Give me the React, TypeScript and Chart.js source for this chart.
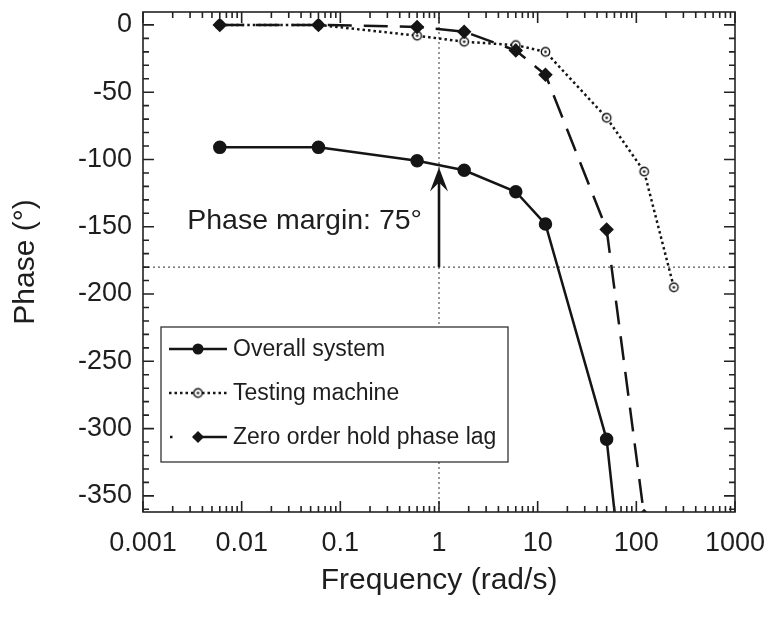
import React, { useEffect, useRef } from "react";
import { Chart, registerables } from "chart.js";

Chart.register(...registerables);

// ---- data ----
const frequencies = [0.006, 0.06, 0.6, 1.8, 6, 12, 50, 120];
const overallSystem = [-91, -91, -101, -108, -124, -148, -308, -564];
const zohPhaseLag = [0, 0, -1.5, -5, -19, -37, -152, -365];
const testingFrequencies = [0.006, 0.06, 0.6, 1.8, 6, 12, 50, 120, 240];
const testingMachine = [0, 0, -8, -12.5, -15, -20, -69, -109, -195];

const xTicks = [0.001, 0.01, 0.1, 1, 10, 100, 1000];
const xTickLabels = ["0.001", "0.01", "0.1", "1", "10", "100", "1000"];
const yTicks = [0, -50, -100, -150, -200, -250, -300, -350];

const seriesNames = ["Overall system", "Testing machine", "Zero order hold phase lag"];
const crossoverFreq = 1;
const crossoverPhase = -180;
const arrowTipPhase = -106;
const annotationText = "Phase margin: 75°";
const annotationPhase = -152;
const xTitle = "Frequency (rad/s)";
const yTitle = "Phase (°)";

const FONT = '"Liberation Sans", Arial, Helvetica, sans-serif';
const INK = "#151515";
const TEXT = "#1e1e1e";

function makeOpenDotCircle(r: number): HTMLCanvasElement {
  const c = document.createElement("canvas");
  const s = Math.ceil(r * 2 + 4);
  c.width = s;
  c.height = s;
  const g = c.getContext("2d")!;
  g.fillStyle = "#fff";
  g.strokeStyle = INK;
  g.lineWidth = 1.4;
  g.beginPath();
  g.arc(s / 2, s / 2, r, 0, Math.PI * 2);
  g.fill();
  g.stroke();
  g.fillStyle = INK;
  g.beginPath();
  g.arc(s / 2, s / 2, 1.3, 0, Math.PI * 2);
  g.fill();
  return c;
}

function drawDiamond(ctx: CanvasRenderingContext2D, x: number, y: number, r: number) {
  ctx.beginPath();
  ctx.moveTo(x, y - r);
  ctx.lineTo(x + r, y);
  ctx.lineTo(x, y + r);
  ctx.lineTo(x - r, y);
  ctx.closePath();
  ctx.fill();
}

export default function App() {
  const ref = useRef<HTMLCanvasElement | null>(null);

  useEffect(() => {
    if (!ref.current) return;
    const openDot = makeOpenDotCircle(4.2);

    const overlay = {
      id: "overlay",
      beforeDatasetsDraw(chart: any) {
        const { ctx, chartArea: a, scales } = chart;
        const x = scales.x, y = scales.y;
        ctx.save();
        ctx.strokeStyle = "#555";
        ctx.lineWidth = 1.2;
        ctx.setLineDash([2, 3]);
        const vx = x.getPixelForValue(crossoverFreq);
        ctx.beginPath();
        ctx.moveTo(vx, a.top);
        ctx.lineTo(vx, a.bottom);
        ctx.stroke();
        const hy = y.getPixelForValue(crossoverPhase);
        ctx.beginPath();
        ctx.moveTo(a.left, hy);
        ctx.lineTo(a.right, hy);
        ctx.stroke();
        ctx.restore();
      },
      afterDatasetsDraw(chart: any) {
        const { ctx, chartArea: a, scales } = chart;
        const x = scales.x, y = scales.y;
        ctx.save();
        // arrow
        const ax = x.getPixelForValue(crossoverFreq);
        const y0 = y.getPixelForValue(crossoverPhase);
        const y1 = y.getPixelForValue(arrowTipPhase);
        ctx.strokeStyle = INK;
        ctx.fillStyle = INK;
        ctx.lineWidth = 2.6;
        ctx.beginPath();
        ctx.moveTo(ax, y0);
        ctx.lineTo(ax, y1 + 12);
        ctx.stroke();
        ctx.beginPath();
        ctx.moveTo(ax, y1);
        ctx.lineTo(ax + 9, y1 + 24);
        ctx.lineTo(ax, y1 + 15);
        ctx.lineTo(ax - 9, y1 + 24);
        ctx.closePath();
        ctx.fill();
        // annotation text
        ctx.font = `28.5px ${FONT}`;
        ctx.fillStyle = TEXT;
        ctx.textAlign = "right";
        ctx.textBaseline = "alphabetic";
        ctx.fillText(annotationText, ax - 17, y.getPixelForValue(annotationPhase));

        // legend
        const bx = a.left + 18, by = a.top + 315, bw = 347, bh = 135;
        ctx.fillStyle = "#fff";
        ctx.fillRect(bx, by, bw, bh);
        ctx.strokeStyle = "#333";
        ctx.lineWidth = 1.3;
        ctx.strokeRect(bx, by, bw, bh);
        const rows = [by + 22, by + 66, by + 110];
        const lx0 = bx + 8, lx1 = bx + 66, mx = bx + 37;
        ctx.strokeStyle = INK;
        ctx.fillStyle = INK;
        ctx.lineWidth = 2.5;
        // overall
        ctx.setLineDash([]);
        ctx.beginPath();
        ctx.moveTo(lx0, rows[0]);
        ctx.lineTo(lx1, rows[0]);
        ctx.stroke();
        ctx.beginPath();
        ctx.arc(mx, rows[0], 5.5, 0, Math.PI * 2);
        ctx.fill();
        // testing
        ctx.setLineDash([2.5, 3]);
        ctx.beginPath();
        ctx.moveTo(lx0, rows[1]);
        ctx.lineTo(lx1, rows[1]);
        ctx.stroke();
        ctx.setLineDash([]);
        ctx.drawImage(openDot, mx - openDot.width / 2, rows[1] - openDot.height / 2);
        // zoh
        ctx.fillRect(lx0 + 1, rows[2] - 1.25, 2.5, 2.5);
        ctx.beginPath();
        ctx.moveTo(bx + 32, rows[2]);
        ctx.lineTo(lx1, rows[2]);
        ctx.stroke();
        drawDiamond(ctx, mx, rows[2], 6);
        // texts
        ctx.font = `23px ${FONT}`;
        ctx.fillStyle = TEXT;
        ctx.textAlign = "left";
        ctx.textBaseline = "middle";
        seriesNames.forEach((n, i) => ctx.fillText(n, bx + 72, rows[i] + 1));
        ctx.restore();
      },
      afterDraw(chart: any) {
        const { ctx, chartArea: a, scales } = chart;
        const x = scales.x, y = scales.y;
        ctx.save();
        ctx.strokeStyle = "#222";
        ctx.lineWidth = 1.6;
        ctx.setLineDash([]);
        ctx.strokeRect(a.left, a.top, a.right - a.left, a.bottom - a.top);
        ctx.beginPath();
        // y ticks every 10, major every 50
        const yMin = y.min, yMax = y.max;
        for (let v = Math.ceil(yMin / 10) * 10; v <= yMax; v += 10) {
          const py = y.getPixelForValue(v);
          const len = v % 50 === 0 ? 11 : 6;
          ctx.moveTo(a.left, py);
          ctx.lineTo(a.left + len, py);
          ctx.moveTo(a.right, py);
          ctx.lineTo(a.right - len, py);
        }
        // x log ticks
        for (let d = -3; d <= 3; d++) {
          for (let m = 1; m <= 9; m++) {
            const v = m * Math.pow(10, d);
            if (v < x.min * 0.999 || v > x.max * 1.001) continue;
            const px = x.getPixelForValue(v);
            const len = m === 1 ? 11 : 6;
            ctx.moveTo(px, a.bottom);
            ctx.lineTo(px, a.bottom - len);
            ctx.moveTo(px, a.top);
            ctx.lineTo(px, a.top + len);
          }
        }
        ctx.stroke();
        ctx.restore();
      },
    };

    const chart = new Chart(ref.current, {
      type: "line",
      data: {
        datasets: [
          {
            label: seriesNames[0],
            data: frequencies.map((f, i) => ({ x: f, y: overallSystem[i] })),
            borderColor: INK,
            backgroundColor: INK,
            borderWidth: 2.5,
            pointStyle: "circle",
            pointRadius: 5.5,
            pointBackgroundColor: INK,
            pointBorderColor: INK,
            tension: 0,
            order: 1,
          },
          {
            label: seriesNames[1],
            data: testingFrequencies.map((f, i) => ({ x: f, y: testingMachine[i] })),
            borderColor: INK,
            borderWidth: 2.5,
            borderDash: [2.5, 3],
            pointStyle: openDot as any,
            pointRadius: 5,
            tension: 0,
            order: 3,
          },
          {
            label: seriesNames[2],
            data: frequencies.map((f, i) => ({ x: f, y: zohPhaseLag[i] })),
            borderColor: INK,
            borderWidth: 2.5,
            borderDash: [24, 12],
            pointStyle: "rectRot",
            pointRadius: 5.5,
            pointBackgroundColor: INK,
            pointBorderColor: INK,
            tension: 0,
            order: 2,
          },
        ],
      },
      options: {
        responsive: false,
        animation: false,
        events: [],
        layout: { padding: { top: 12, right: 46, bottom: 0, left: 0 } },
        plugins: { legend: { display: false }, tooltip: { enabled: false } },
        scales: {
          x: {
            type: "logarithmic",
            min: 0.001,
            max: 1000,
            grid: { display: false, drawTicks: false },
            border: { display: false },
            afterBuildTicks: (s: any) => {
              s.ticks = xTicks.map((v) => ({ value: v }));
            },
            afterFit: (s: any) => {
              s.height = 105;
              s.paddingLeft = 0;
              s.paddingRight = 0;
            },
            ticks: {
              autoSkip: false,
              maxRotation: 0,
              padding: 15,
              color: TEXT,
              font: { family: FONT, size: 27 },
              callback: (_v: any, i: number) => xTickLabels[i],
            },
            title: {
              display: true,
              text: xTitle,
              color: TEXT,
              font: { family: FONT, size: 30 },
              padding: { top: 0, bottom: 18 },
            },
          },
          y: {
            type: "linear",
            min: -362,
            max: 9.6,
            grid: { display: false, drawTicks: false },
            border: { display: false },
            afterBuildTicks: (s: any) => {
              s.ticks = yTicks.map((v) => ({ value: v }));
            },
            afterFit: (s: any) => {
              s.width = 143;
              s.paddingTop = 0;
              s.paddingBottom = 0;
            },
            ticks: {
              padding: 11,
              color: TEXT,
              font: { family: FONT, size: 27 },
              callback: (v: any) => String(v),
            },
            title: {
              display: true,
              text: yTitle,
              color: TEXT,
              font: { family: FONT, size: 30 },
              padding: { top: 8, bottom: 0 },
            },
          },
        },
      },
      plugins: [overlay],
    });
    return () => chart.destroy();
  }, []);

  return (
    <div style={{ position: "absolute", left: 0, top: 0, width: 781, height: 617, background: "#fff" }}>
      <canvas ref={ref} width={781} height={617} />
    </div>
  );
}
